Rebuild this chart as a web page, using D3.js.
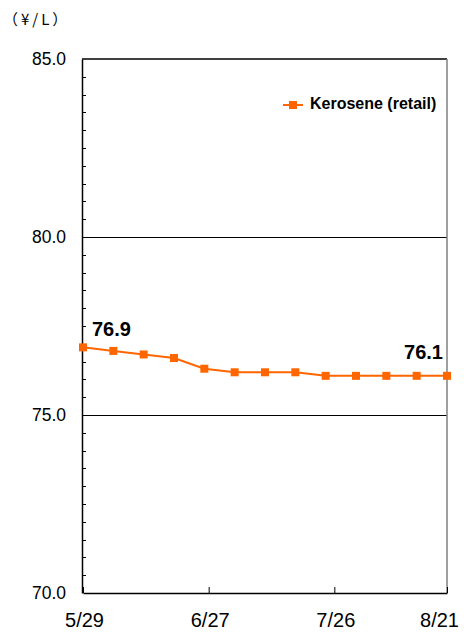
<!DOCTYPE html>
<html><head><meta charset="utf-8">
<script src="https://cdn.jsdelivr.net/npm/d3@7"></script>
<style>body{margin:0;background:#fff;}svg{display:block;}</style>
</head><body>
<svg id="c" width="467" height="632"></svg>
<script>
const dates = ["2023-05-29","2023-06-05","2023-06-12","2023-06-19","2023-06-26","2023-07-03","2023-07-10","2023-07-17","2023-07-24","2023-07-31","2023-08-07","2023-08-14","2023-08-21"];
const values = [76.9,76.8,76.7,76.6,76.3,76.2,76.2,76.2,76.1,76.1,76.1,76.1,76.1];
const xTickDates = ["2023-05-29","2023-06-27","2023-07-26","2023-08-21"];
const xTickLabels = ["5/29","6/27","7/26","8/21"];
const yTicks = [70.0,75.0,80.0,85.0];
const seriesName = "Kerosene (retail)";
const unitLabel = "（¥/L）";

const parse = d3.utcParse("%Y-%m-%d");
const svg = d3.select("#c");
const L=82,R=447,T=59,B=593;
const font = "'Liberation Sans', Arial, sans-serif";
const narrow = "'Liberation Sans Narrow', 'Liberation Sans', Arial, sans-serif";
const x = d3.scaleUtc().domain([parse(dates[0]), parse(dates[dates.length-1])]).range([L+1,R]);
const y = d3.scaleLinear().domain([70,85]).range([B,T]);
const orange = "#FF6600";

// gridlines
svg.append("g").selectAll("line").data([75,80]).join("line")
  .attr("x1",L).attr("x2",R).attr("y1",d=>Math.round(y(d))+0.5).attr("y2",d=>Math.round(y(d))+0.5)
  .attr("stroke","#000").attr("stroke-width",1);
// top border
svg.append("line").attr("x1",L).attr("x2",R).attr("y1",T).attr("y2",T).attr("stroke","#000").attr("stroke-width",1.5);
// right border
svg.append("line").attr("x1",R).attr("x2",R).attr("y1",T).attr("y2",B).attr("stroke","#808080").attr("stroke-width",1.5);

// y axis
const minor = d3.range(70.5,85,0.5).filter(v=>Math.abs(v%5)>1e-6);
svg.append("g").selectAll("line").data(minor).join("line")
  .attr("x1",L).attr("x2",L+4).attr("y1",d=>Math.round(y(d))+0.5).attr("y2",d=>Math.round(y(d))+0.5).attr("stroke","#000");
const yAxis = d3.axisLeft(y).tickValues(yTicks).tickFormat(d3.format(".1f")).tickSize(0).tickPadding(16);
const gy = svg.append("g").attr("transform",`translate(${L},0)`).call(yAxis);
gy.select(".domain").attr("stroke","#000").attr("stroke-width",1.5);
gy.selectAll("text").attr("font-family",font).attr("font-size",17.5).attr("fill","#000");

// x axis
const tickVals = xTickDates.map(parse);
const xAxis = d3.axisBottom(x).tickValues(tickVals)
  .tickFormat((d,i)=>xTickLabels[i]).tickSize(-6).tickPadding(20).tickSizeOuter(0);
const gx = svg.append("g").attr("transform",`translate(0,${B})`).call(xAxis);
gx.select(".domain").attr("stroke","#000").attr("stroke-width",1.5);
gx.selectAll(".tick line").attr("stroke","#000");
gx.selectAll("text").attr("font-family",font).attr("font-size",20).attr("fill","#000")
  .attr("dx",(d,i)=> i===tickVals.length-1 ? -8 : 1);

// line
svg.append("path").datum(values)
  .attr("d",d3.line().x((d,i)=>x(parse(dates[i]))).y(d=>y(d)))
  .attr("fill","none").attr("stroke",orange).attr("stroke-width",2);
svg.append("g").selectAll("rect").data(values).join("rect")
  .attr("x",(d,i)=>x(parse(dates[i]))-4).attr("y",d=>y(d)-4).attr("width",8).attr("height",8).attr("fill",orange);

// value labels
const first = 0, last = values.length-1;
svg.append("text").attr("x",x(parse(dates[first]))+9).attr("y",y(values[first])-11)
  .attr("font-family",narrow).attr("font-weight","bold").attr("font-size",20).text(values[first].toFixed(1));
svg.append("text").attr("x",x(parse(dates[last]))-4).attr("y",y(values[last])-17)
  .attr("text-anchor","end").attr("font-family",narrow).attr("font-weight","bold").attr("font-size",20).text(values[last].toFixed(1));

// legend
svg.append("line").attr("x1",283).attr("x2",303).attr("y1",105).attr("y2",105).attr("stroke",orange).attr("stroke-width",2);
svg.append("rect").attr("x",289).attr("y",101).attr("width",8).attr("height",8).attr("fill",orange);
svg.append("text").attr("x",310).attr("y",109).attr("font-family",font).attr("font-weight","bold").attr("font-size",16).text(seriesName);

// unit
svg.append("text").attr("x",3).attr("y",25).attr("font-family","'Noto Sans CJK JP', sans-serif").attr("font-size",15).attr("letter-spacing",3).text(unitLabel);
</script>
</body></html>
